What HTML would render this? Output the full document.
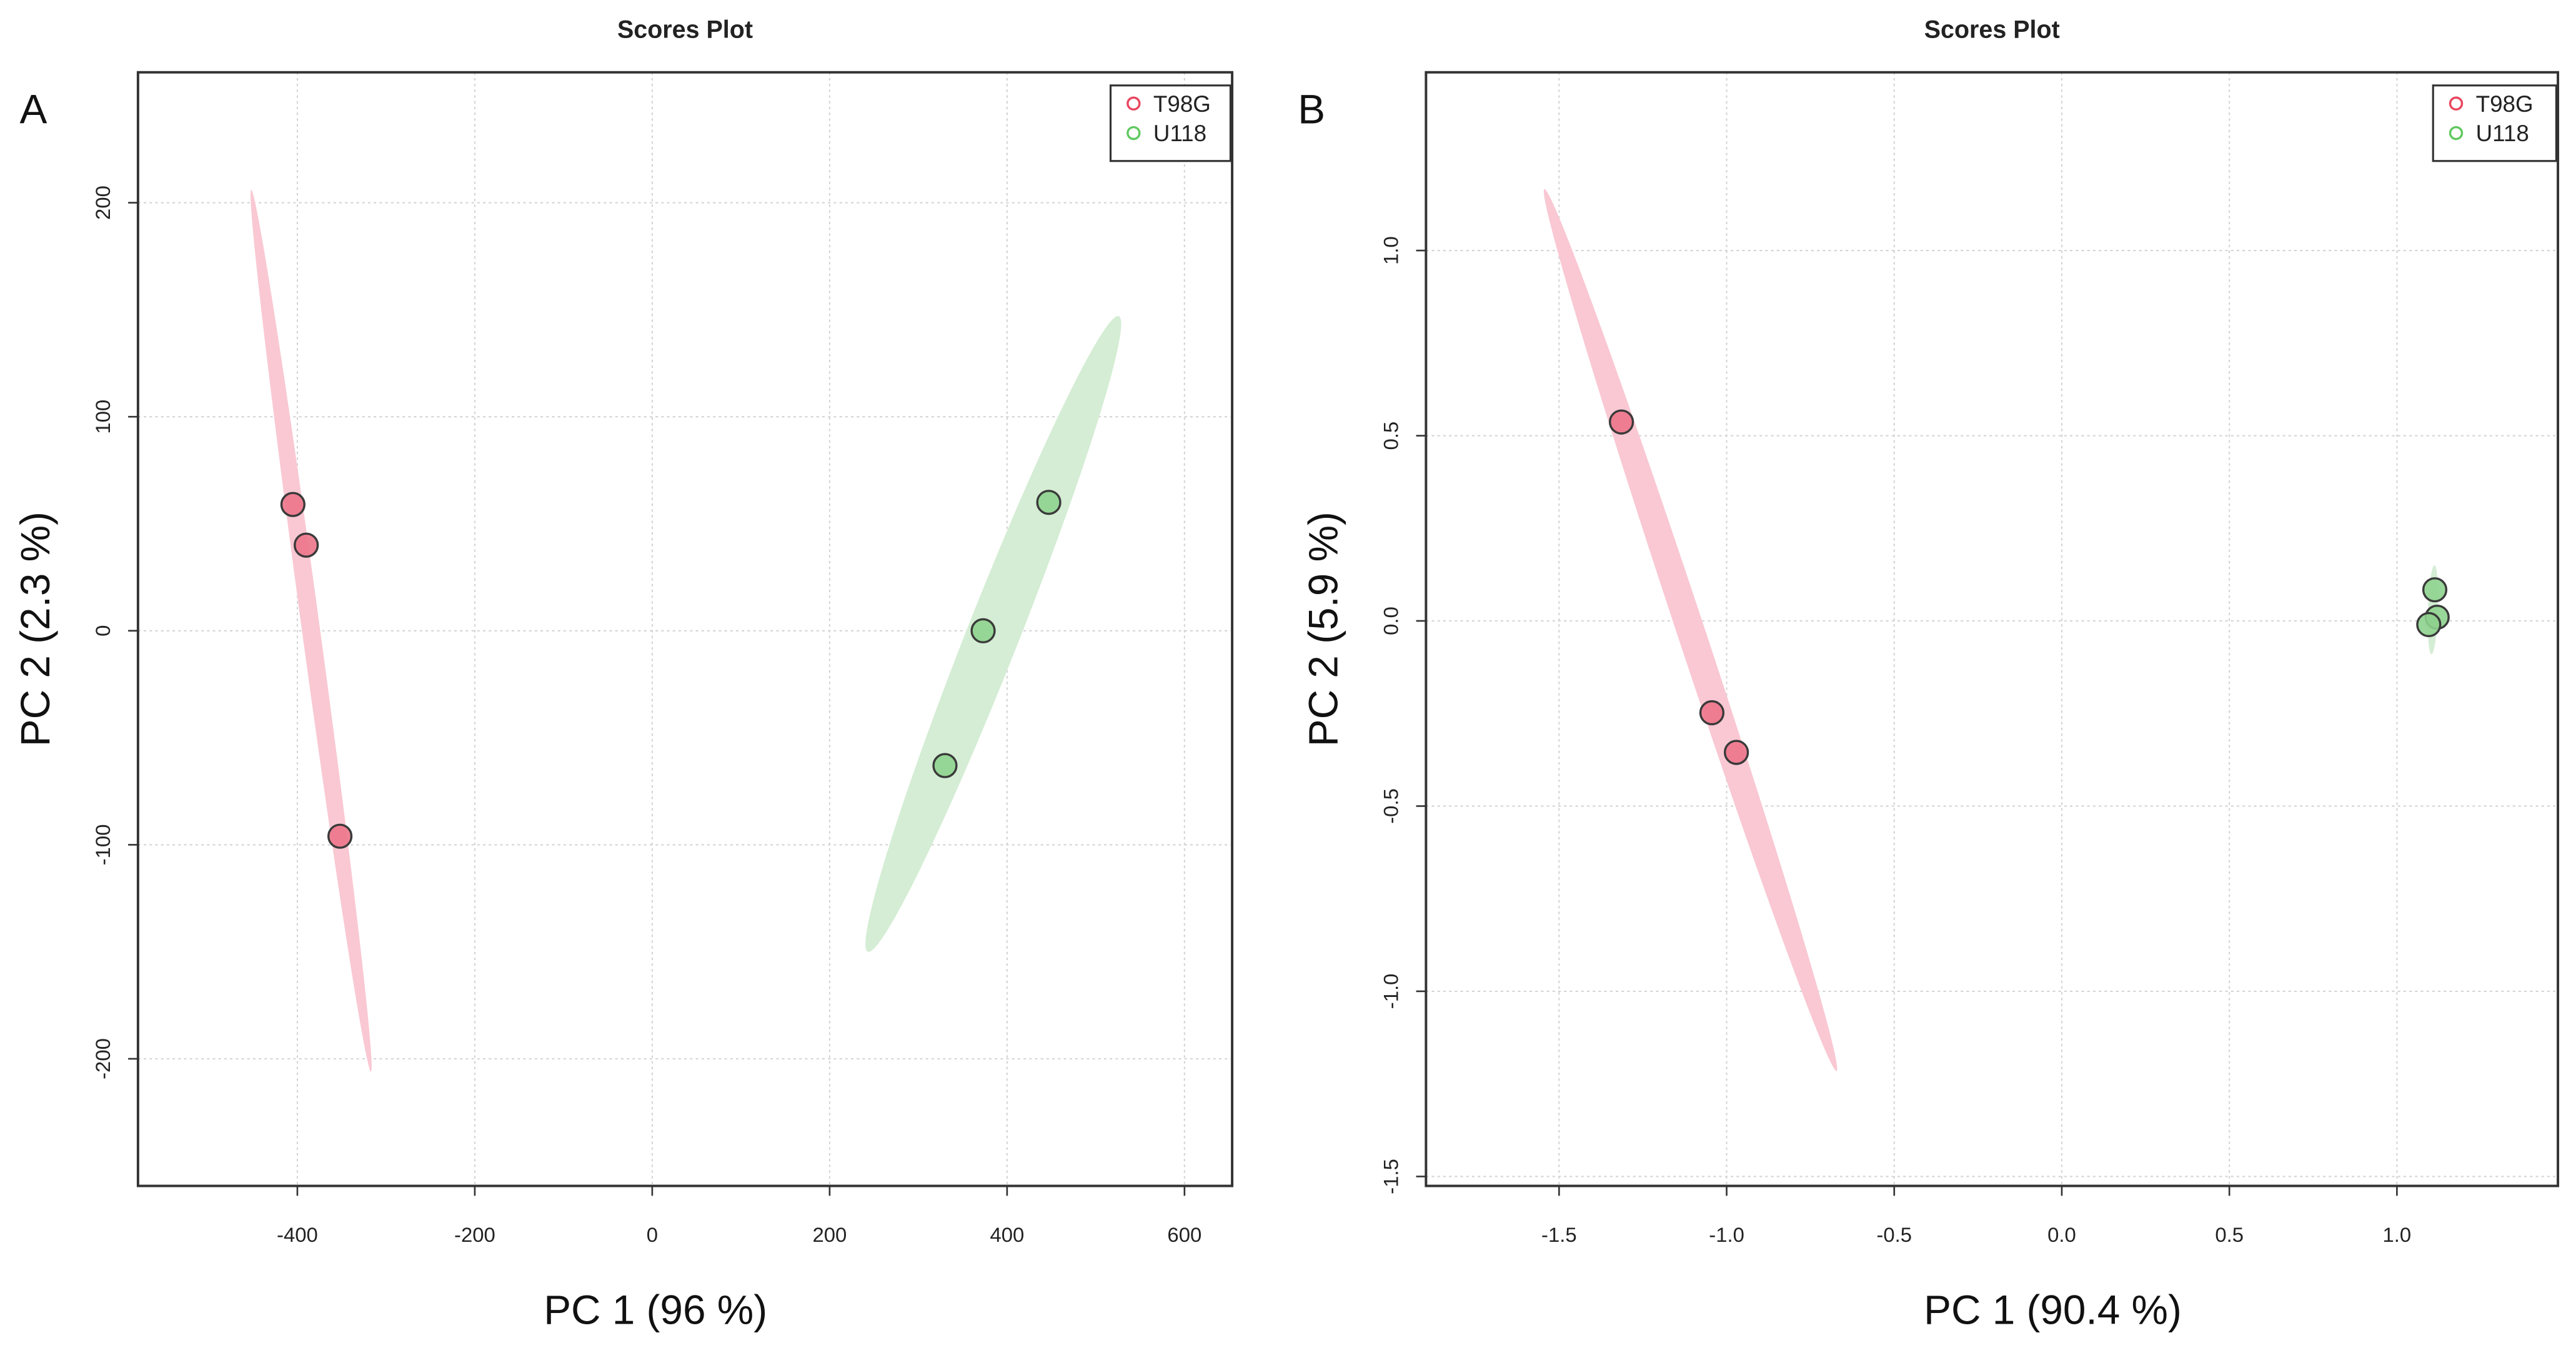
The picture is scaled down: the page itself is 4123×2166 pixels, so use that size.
<!DOCTYPE html>
<html><head><meta charset="utf-8"><style>
html,body{margin:0;padding:0;background:#fff}
svg{display:block}
text{font-family:"Liberation Sans",sans-serif}
</style></head><body>
<svg id="chart" width="4123" height="2166" viewBox="0 0 1568 823.7" xmlns="http://www.w3.org/2000/svg"></svg>
<script>
// Panel A data
const aT98x = [-405, -390, -352];
const aT98y = [59, 40, -96];
const aU118x = [447, 373, 330];
const aU118y = [60, 0, -63];
const aXTicks = [-400, -200, 0, 200, 400, 600];
const aYTicks = [200, 100, 0, -100, -200];
const aEllT98 = [[-452, 206], [-317, -206]];
const aEllU118 = [[243, -150], [526, 147]];
// Panel B data
const bT98x = [-1.314, -1.044, -0.971];
const bT98y = [0.537, -0.248, -0.355];
const bU118x = [1.113, 1.12, 1.095];
const bU118y = [0.084, 0.01, -0.01];
const bXTicks = [-1.5, -1.0, -0.5, 0.0, 0.5, 1.0];
const bXTickLabels = ["-1.5", "-1.0", "-0.5", "0.0", "0.5", "1.0"];
const bYTicks = [1.0, 0.5, 0.0, -0.5, -1.0, -1.5];
const bYTickLabels = ["1.0", "0.5", "0.0", "-0.5", "-1.0", "-1.5"];
const bEllT98 = [[-1.544, 1.166], [-0.672, -1.215]];
const bEllU118 = [[1.112, 0.15], [1.103, -0.09]];

const NS = "http://www.w3.org/2000/svg";
const svg = document.getElementById("chart");
function mk(tag, attrs, parent) {
  const e = document.createElementNS(NS, tag);
  for (const k in attrs) e.setAttribute(k, attrs[k]);
  (parent || svg).appendChild(e);
  return e;
}
function panel(p) {
  const g = mk("g", {});
  
  
  const sx = v => p.x0 + (v - p.xv0) * p.kx;
  const sy = v => p.y0 - (v - p.yv0) * p.ky;
  p.xt.forEach((v) => {
    const l = mk("line", {x1: sx(v), x2: sx(v), y1: p.box[1], y2: p.box[3], stroke: "#d3d3d3", "stroke-width": 0.8, "stroke-dasharray": "1.5,2"}, g);
    
    
  });
  p.yt.forEach((v) => {
    const l = mk("line", {x1: p.box[0], x2: p.box[2], y1: sy(v), y2: sy(v), stroke: "#d3d3d3", "stroke-width": 0.8, "stroke-dasharray": "1.5,2"}, g);
    
    
  });
  function ell(ends, w, fill, name) {
    const x1 = sx(ends[0][0]), y1 = sy(ends[0][1]), x2 = sx(ends[1][0]), y2 = sy(ends[1][1]);
    const cx = (x1 + x2) / 2, cy = (y1 + y2) / 2;
    const len = Math.hypot(x2 - x1, y2 - y1) / 2;
    const ang = Math.atan2(y2 - y1, x2 - x1) * 180 / Math.PI;
    const e = mk("ellipse", {cx: cx, cy: cy, rx: len, ry: w / 2, fill: fill, transform: `rotate(${ang} ${cx} ${cy})`}, g);
    
    
  }
  ell(p.e1, p.w1, "#f9c8d3", "t98g-confidence-ellipse");
  ell(p.e2, p.w2, "#d4edd4", "u118-confidence-ellipse");
  function pts(xs, ys, fill, name) {
    xs.forEach((x, i) => {
      const c = mk("circle", {cx: sx(x), cy: sy(ys[i]), r: 7, fill: fill, stroke: "#3a3a3a", "stroke-width": 1.3, "fill-opacity": 0.9}, g);
      
      
    });
  }
  pts(p.px1, p.py1, "#ec7489", "t98g-point");
  pts(p.px2, p.py2, "#8ed18e", "u118-point");
  const b = mk("rect", {x: p.box[0], y: p.box[1], width: p.box[2] - p.box[0], height: p.box[3] - p.box[1], fill: "none", stroke: "#333", "stroke-width": 1.5}, g);
  
  
  p.xt.forEach((v, i) => {
    const t = mk("line", {x1: sx(v), x2: sx(v), y1: p.box[3], y2: p.box[3] + 6, stroke: "#333", "stroke-width": 1}, g);
    
    
    const tx = mk("text", {x: sx(v), y: p.box[3] + 34, "font-size": 12.5, "text-anchor": "middle", fill: "#222"}, g);
    tx.textContent = p.xl[i];
    
    
  });
  p.yt.forEach((v, i) => {
    const t = mk("line", {x1: p.box[0] - 6, x2: p.box[0], y1: sy(v), y2: sy(v), stroke: "#333", "stroke-width": 1}, g);
    
    
    const lx = p.box[0] - 17, ly = sy(v);
    const tx = mk("text", {x: lx, y: ly, "font-size": 12.5, "text-anchor": "middle", fill: "#222", transform: `rotate(-90 ${lx} ${ly})`}, g);
    tx.textContent = p.yl[i];
    
    
  });
  const tt = mk("text", {x: (p.box[0] + p.box[2]) / 2, y: 23, "font-size": 15, "font-weight": "bold", "text-anchor": "middle", fill: "#222"}, g);
  tt.textContent = "Scores Plot";
  
  
  const xt = mk("text", {x: (p.box[0] + p.box[2]) / 2 + p.xtOff, y: 806, "font-size": 25, "text-anchor": "middle", fill: "#111"}, g);
  xt.textContent = p.xTitle;
  
  
  const yx = p.box[0] - 54, yy = (p.box[1] + p.box[3]) / 2;
  const yt = mk("text", {x: yx, y: yy, "font-size": 25, "text-anchor": "middle", fill: "#111", transform: `rotate(-90 ${yx} ${yy})`}, g);
  yt.textContent = p.yTitle;
  
  
  const pl = mk("text", {x: p.letterX, y: 75, "font-size": 25, fill: "#111"}, g);
  pl.textContent = p.letter;
  
  
  const lg = mk("g", {}, g);
  
  
  const lr = mk("rect", {x: p.leg[0], y: 52, width: p.leg[1], height: 46, fill: "#fff", stroke: "#333", "stroke-width": 1.2}, lg);
  
  
  [["T98G", "#e8455f", 63], ["U118", "#5fc85f", 81]].forEach(d => {
    const c = mk("circle", {cx: p.leg[0] + 14, cy: d[2], r: 3.6, fill: "none", stroke: d[1], "stroke-width": 1.3}, lg);
    
    
    const t = mk("text", {x: p.leg[0] + 26, y: d[2] + 5, "font-size": 14, fill: "#222"}, lg);
    t.textContent = d[0];
    
    
  });
}
panel({id: "a", box: [84, 44, 750, 722], x0: 397, xv0: 0, kx: 0.54, y0: 384, yv0: 0, ky: 1.303,
  xt: aXTicks, xl: aXTicks.map(String), yt: aYTicks, yl: aYTicks.map(String),
  e1: aEllT98, w1: 11, e2: aEllU118, w2: 32,
  px1: aT98x, py1: aT98y, px2: aU118x, py2: aU118y,
  xTitle: "PC 1 (96 %)", yTitle: "PC 2 (2.3 %)", xtOff: -18, letter: "A", letterX: 12, leg: [676, 73]});
panel({id: "b", box: [868, 44, 1557, 722], x0: 1255, xv0: 0, kx: 204, y0: 378, yv0: 0, ky: 225.5,
  xt: bXTicks, xl: bXTickLabels, yt: bYTicks, yl: bYTickLabels,
  e1: bEllT98, w1: 17, e2: bEllU118, w2: 6,
  px1: bT98x, py1: bT98y, px2: bU118x, py2: bU118y,
  xTitle: "PC 1 (90.4 %)", yTitle: "PC 2 (5.9 %)", xtOff: 37, letter: "B", letterX: 790, leg: [1481, 75]});
</script>
</body></html>
